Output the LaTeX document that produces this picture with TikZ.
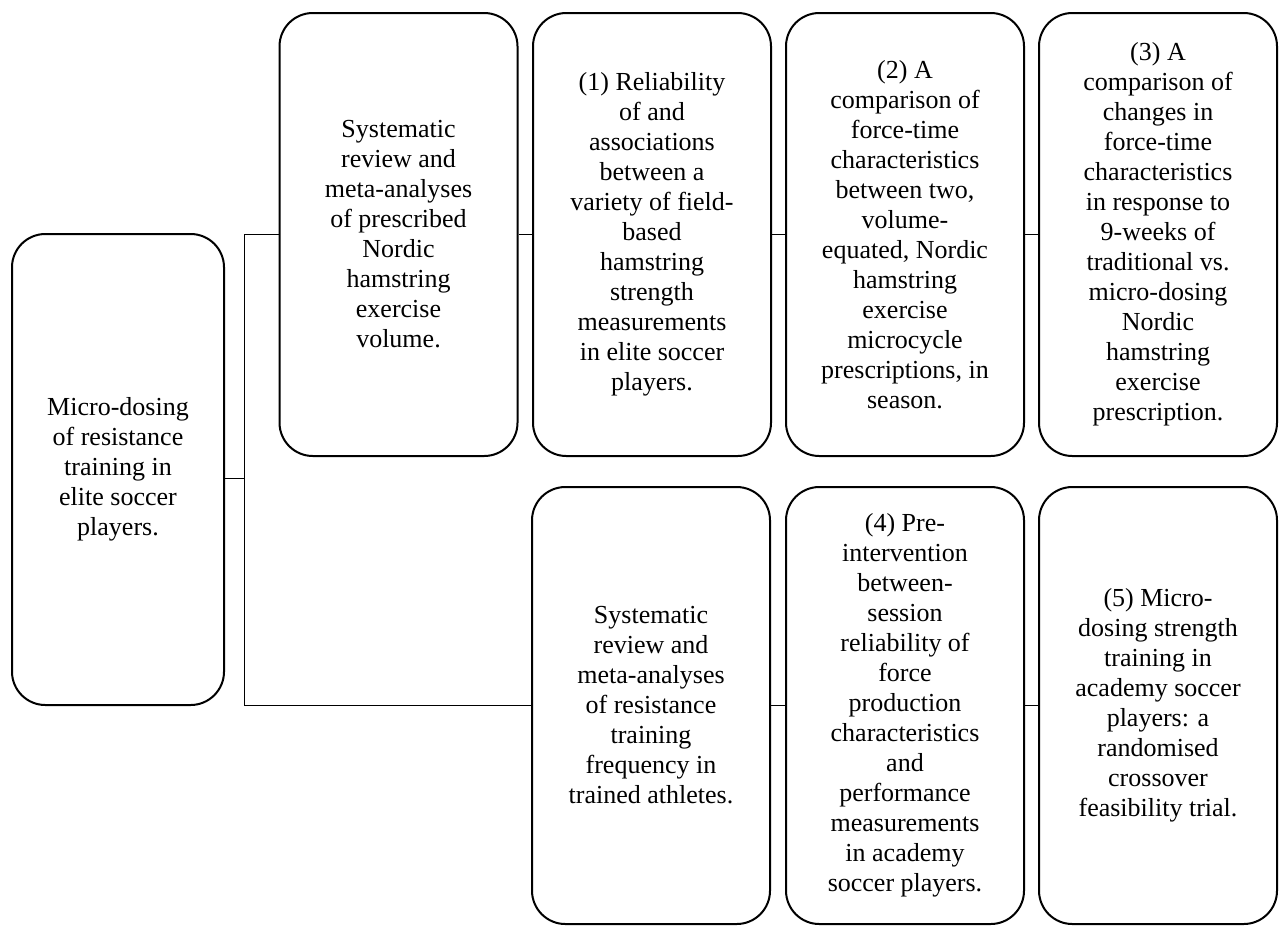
\documentclass[tikz,border=0pt]{standalone}
\usepackage{fontspec}
\setmainfont{Liberation Serif}
\begin{document}
\begin{tikzpicture}[x=0.75pt,y=-0.75pt,
  box/.style={draw, line width=1.5pt, rounded corners=25pt, align=center,
    inner sep=0pt, font=\fontsize{19.5}{22.5}\selectfont},
  rootbox/.style={box, minimum width=159pt, minimum height=353.25pt},
  topbox/.style={box, minimum width=178.5pt, minimum height=332.25pt},
  lowbox/.style={box, minimum width=178.5pt, minimum height=327.75pt},
  link/.style={line width=0.75pt}]
\useasboundingbox (0,0) rectangle (1280,925);

% root topic
\node[rootbox] (root) at (118,469.5)
  {Micro-dosing\\of resistance\\training in\\elite soccer\\players.};

% upper strand: Nordic hamstring exercise
\node[topbox] (sra) at (398.5,234.5)
  {Systematic\\review and\\meta-analyses\\of prescribed\\Nordic\\hamstring\\exercise\\volume.};
\node[topbox] (s1) at (652,234.5)
  {(1) Reliability\\of and\\associations\\between a\\variety of field-\\based\\hamstring\\strength\\measurements\\in elite soccer\\players.};
\node[topbox] (s2) at (905,234.5)
  {(2) A\\comparison of\\force-time\\characteristics\\between two,\\volume-\\equated, Nordic\\hamstring\\exercise\\microcycle\\prescriptions, in\\season.};
\node[topbox] (s3) at (1158,234.5)
  {(3) A\\comparison of\\changes in\\force-time\\characteristics\\in response to\\9-weeks of\\traditional vs.\\micro-dosing\\Nordic\\hamstring\\exercise\\prescription.};

% lower strand: resistance training frequency
\node[lowbox] (srb) at (651,705.5)
  {Systematic\\review and\\meta-analyses\\of resistance\\training\\frequency in\\trained athletes.};
\node[lowbox] (s4) at (905,705.5)
  {(4) Pre-\\intervention\\between-\\session\\reliability of\\force\\production\\characteristics\\and\\performance\\measurements\\in academy\\soccer players.};
\node[lowbox] (s5) at (1158,705.5)
  {(5) Micro-\\dosing strength\\training in\\academy soccer\\players: a\\randomised\\crossover\\feasibility trial.};

% branching connectors
\coordinate (jtop) at (244,234.5);
\coordinate (jbot) at (244,705.5);
\coordinate (rj) at ([yshift=-6.4pt]root.east);
\draw[link] (rj) -- (rj -| jtop);
\draw[link] (jtop) -- (jbot);
\draw[link] (jtop) -- (sra.west);
\draw[link] (jbot) -- (srb.west);
\draw[link] (sra.east) -- (s1.west);
\draw[link] (s1.east) -- (s2.west);
\draw[link] (s2.east) -- (s3.west);
\draw[link] (srb.east) -- (s4.west);
\draw[link] (s4.east) -- (s5.west);
\end{tikzpicture}
\end{document}
